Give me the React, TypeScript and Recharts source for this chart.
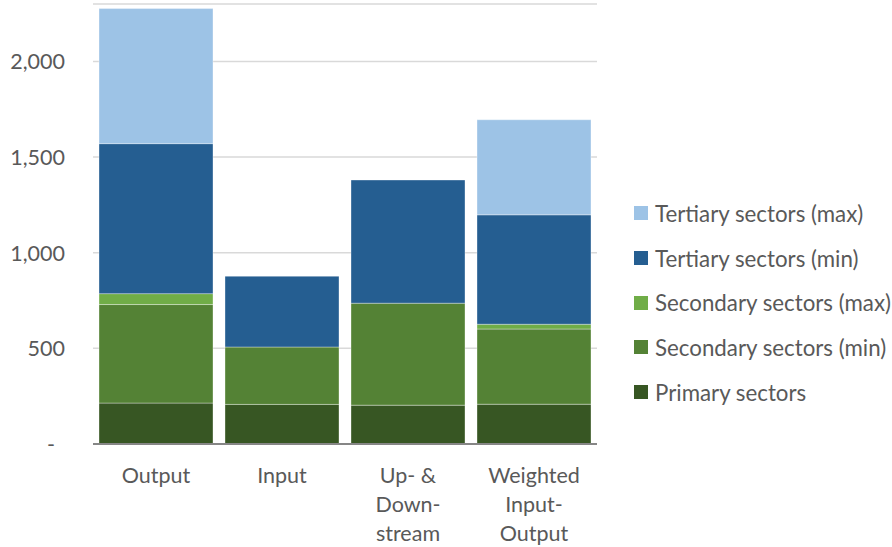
import { BarChart, Bar, XAxis, YAxis, CartesianGrid } from "recharts"

const categories = ["Output", "Input", "Up- & Down-stream", "Weighted Input-Output"]
const tickLines = [["Output"], ["Input"], ["Up- &", "Down-", "stream"], ["Weighted", "Input-", "Output"]]
const yTicks = [0, 500, 1000, 1500, 2000]

const primary = [214, 207, 203, 208]
const secondaryMin = [515, 300, 533, 393]
const secondaryMax = [57, 0, 0, 25]
const tertiaryMin = [784, 370, 644, 572]
const tertiaryMax = [706, 0, 0, 497]

const series = [
  { key: "primary", name: "Primary sectors", color: "#375623", values: primary },
  { key: "secondaryMin", name: "Secondary sectors (min)", color: "#548235", values: secondaryMin },
  { key: "secondaryMax", name: "Secondary sectors (max)", color: "#70AD47", values: secondaryMax },
  { key: "tertiaryMin", name: "Tertiary sectors (min)", color: "#255E91", values: tertiaryMin },
  { key: "tertiaryMax", name: "Tertiary sectors (max)", color: "#9DC3E6", values: tertiaryMax },
]

const data = categories.map((c, i) => {
  const row: Record<string, string | number> = { category: c }
  series.forEach((s) => (row[s.key] = s.values[i]))
  return row
})

const FONT = "Lato, 'Liberation Sans', sans-serif"
const TEXT = "#595959"

function YTick(props: any) {
  const { y, payload } = props
  const zero = payload.value === 0
  return (
    <text
      x={zero ? 55 : 65}
      y={y}
      textAnchor="end"
      dominantBaseline="central"
      fontSize={21.5}
      fontFamily={FONT}
      fill={TEXT}
    >
      {zero ? "-" : payload.value.toLocaleString("en-US")}
    </text>
  )
}

function XTick(props: any) {
  const { x, y, payload } = props
  const idx = categories.indexOf(payload.value)
  const lines = tickLines[idx] || [payload.value]
  return (
    <text x={x} y={y} textAnchor="middle" fontSize={21.5} fontFamily={FONT} fill={TEXT}>
      {lines.map((l, i) => (
        <tspan key={i} x={x} dy={i === 0 ? 31 : 29}>
          {l}
        </tspan>
      ))}
    </text>
  )
}

export default function App() {
  const legendItems = [...series].reverse()
  return (
    <div style={{ position: "relative", width: 892, height: 547, background: "#fff" }}>
      <style>{`body{margin:0}`}</style>
      <BarChart
        width={892}
        height={547}
        data={data}
        margin={{ top: 4, right: 295, bottom: 0, left: 0 }}
        barCategoryGap={6}
      >
        <CartesianGrid vertical={false} stroke="#D9D9D9" strokeWidth={1.5} />
        <XAxis
          dataKey="category"
          tick={<XTick />}
          tickLine={false}
          axisLine={{ stroke: "#868686", strokeWidth: 2 }}
          height={103}
          interval={0}
        />
        <YAxis
          width={93}
          domain={[0, 2300]}
          ticks={yTicks}
          tick={<YTick />}
          axisLine={false}
          tickLine={false}
          allowDataOverflow
        />
        {series.map((s) => (
          <Bar
            key={s.key}
            dataKey={s.key}
            name={s.name}
            stackId="a"
            fill={s.color}
            stroke="#ffffff"
            strokeOpacity={0.35}
            strokeWidth={1}
            isAnimationActive={false}
          />
        ))}
      </BarChart>
      <div style={{ position: "absolute", left: 634, top: 191, fontFamily: FONT, fontSize: 22.3, color: TEXT }}>
        {legendItems.map((s) => (
          <div key={s.key} style={{ display: "flex", alignItems: "center", height: 44.7, whiteSpace: "nowrap" }}>
            <span style={{ width: 14, height: 14, background: s.color, marginRight: 7, flex: "none" }} />
            <span>{s.name}</span>
          </div>
        ))}
      </div>
    </div>
  )
}
